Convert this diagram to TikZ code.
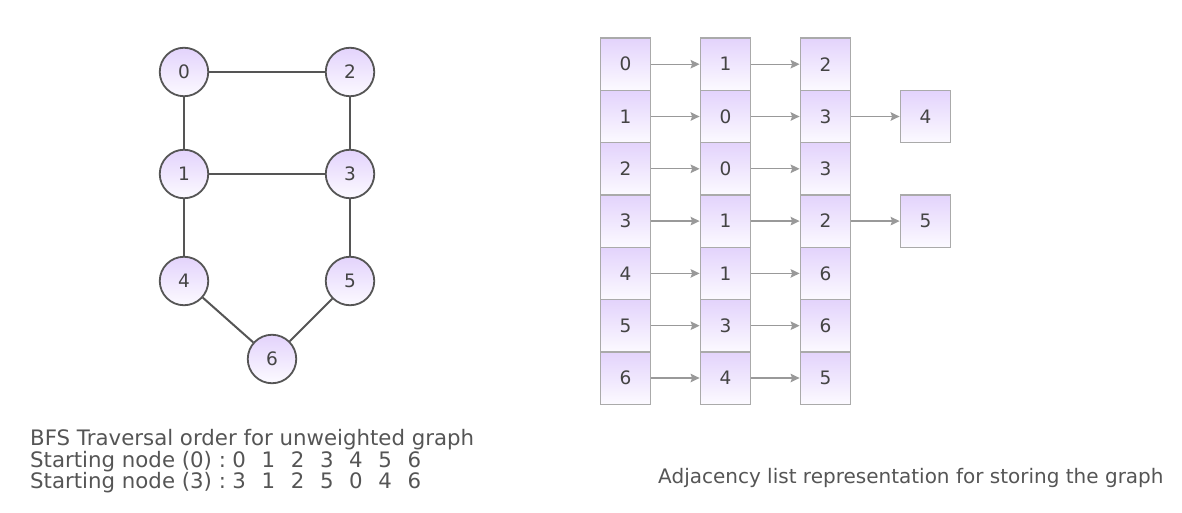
\documentclass[tikz,border=0pt]{standalone}
\usepackage{fontspec}
\setmainfont{DejaVu Sans}
\usetikzlibrary{arrows.meta}
\definecolor{edgec}{HTML}{555555}
\definecolor{txtc}{HTML}{555555}
\definecolor{numc}{HTML}{444444}
\definecolor{boxc}{HTML}{AAAAAA}
\definecolor{arrc}{HTML}{999999}
\definecolor{topc}{HTML}{E3D3FC}
\definecolor{botc}{HTML}{FCFAFF}
\newcommand\mydg[1]{\makebox[29.2pt][c]{#1}}
\newcommand\mylead[1]{\makebox[194.4pt][l]{#1}}
\tikzset{
  vert/.style={circle, draw=edgec, line width=1.8pt, minimum size=48.5pt, inner sep=0pt,
    top color=topc, bottom color=botc, text=numc, font=\fontsize{18.5}{18.5}\selectfont},
  gedge/.style={draw=edgec, line width=2pt},
  cell/.style={rectangle, draw=boxc, line width=1.3pt, minimum width=50.5pt, minimum height=52.3pt,
    inner sep=0pt, top color=topc, bottom color=botc, text=numc, font=\fontsize{18.5}{18.5}\selectfont},
  link/.style={draw=arrc, line width=1.3pt, -{Stealth[length=9pt,width=8.5pt,inset=1.5pt]}},
  caption/.style={text=txtc, inner sep=0pt, anchor=base west},
}
\begin{document}
\begin{tikzpicture}[x=1pt,y=-1pt]
\useasboundingbox (0,0) rectangle (1182,513);
% graph
\node[vert] (n0) at (184,72) {0};
\node[vert] (n2) at (350,72) {2};
\node[vert] (n1) at (184,174) {1};
\node[vert] (n3) at (350,174) {3};
\node[vert] (n4) at (184,281) {4};
\node[vert] (n5) at (350,281) {5};
\node[vert] (n6) at (272,359) {6};
\draw[gedge] (n0) -- (n2);
\draw[gedge] (n0) -- (n1);
\draw[gedge] (n2) -- (n3);
\draw[gedge] (n1) -- (n3);
\draw[gedge] (n1) -- (n4);
\draw[gedge] (n3) -- (n5);
\draw[gedge] (n4) -- (n6);
\draw[gedge] (n5) -- (n6);
% adjacency list
\foreach \r/\lst in {0/{0,1,2},1/{1,0,3,4},2/{2,0,3},3/{3,1,2,5},4/{4,1,6},5/{5,3,6},6/{6,4,5}}{
  \foreach \v [count=\c from 0] in \lst {
    \node[cell] (a\r-\c) at (625.5+100*\c, 64.2+52.3*\r) {\v};
  }
}
\foreach \r/\n in {0/2,1/3,2/2,3/3,4/2,5/2,6/2}{
  \foreach \c [evaluate=\c as \p using int(\c-1)] in {1,...,\n}{
    \draw[link] (a\r-\p) -- (a\r-\c);
  }
}
% captions
\node[caption, font=\fontsize{21.3}{21.3}\selectfont] (t1) at (30,445) {BFS Traversal order for unweighted graph};
\node[caption, font=\fontsize{21.3}{21.3}\selectfont] (t2) at (30,467) {\mylead{Starting node (0) :}\mydg{0}\mydg{1}\mydg{2}\mydg{3}\mydg{4}\mydg{5}\mydg{6}};
\node[caption, font=\fontsize{21.3}{21.3}\selectfont] (t3) at (30,488.5) {\mylead{Starting node (3) :}\mydg{3}\mydg{1}\mydg{2}\mydg{5}\mydg{0}\mydg{4}\mydg{6}};
\node[caption, font=\fontsize{20}{20}\selectfont] (t4) at (658,483) {Adjacency list representation for storing the graph};
\end{tikzpicture}
\end{document}
